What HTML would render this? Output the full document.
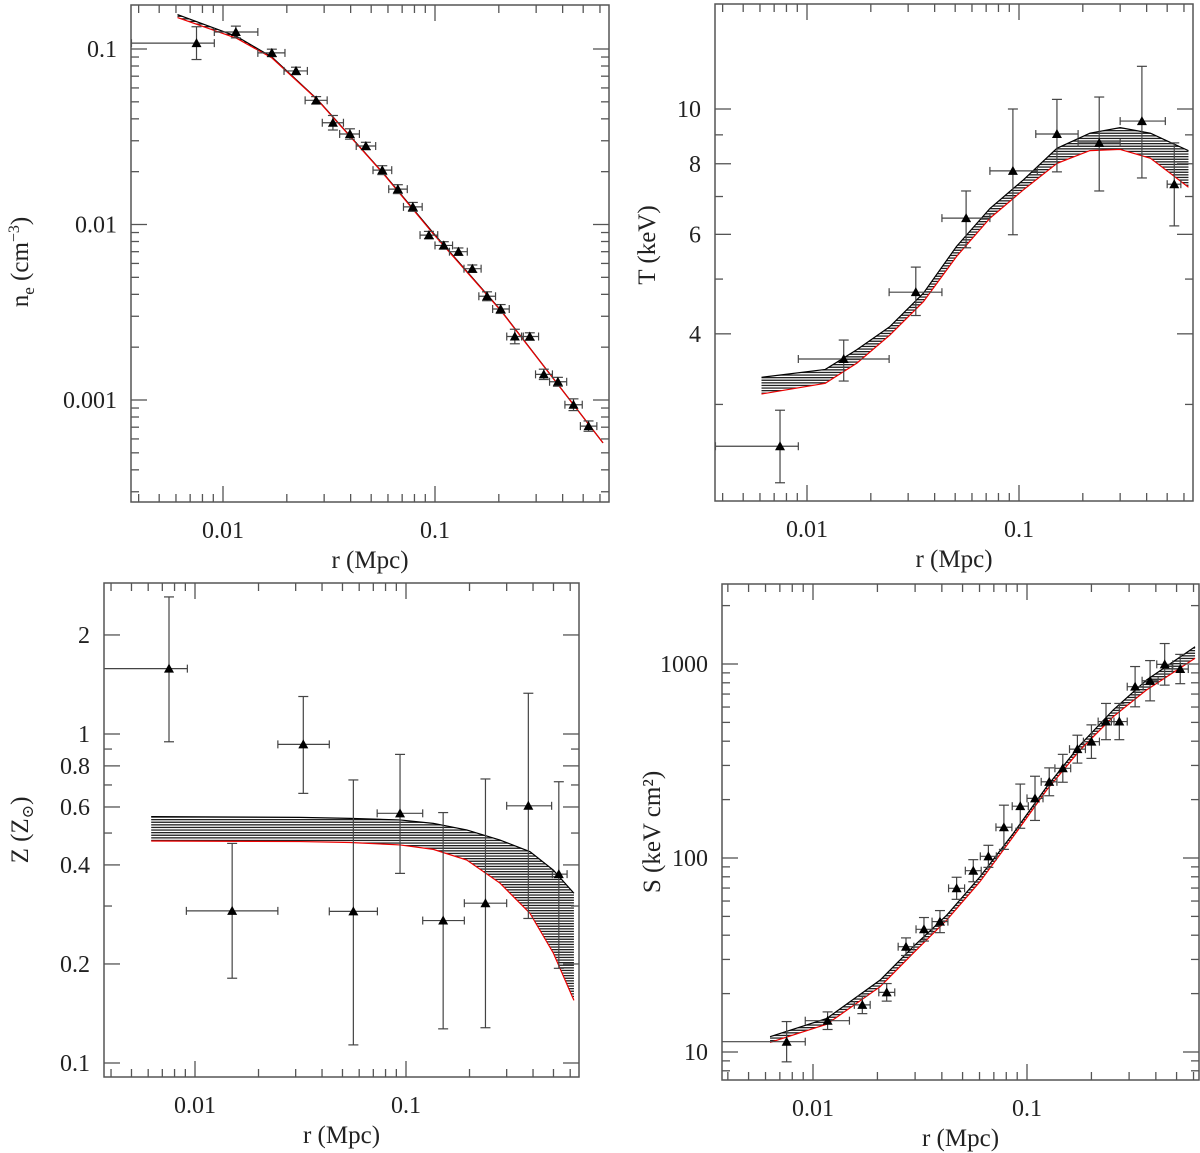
<!DOCTYPE html>
<html><head><meta charset="utf-8">
<style>
html,body{margin:0;padding:0;background:#fff;}
svg{display:block;font-family:"Liberation Serif","DejaVu Serif",serif;}
</style></head>
<body>
<svg id="fig" width="1200" height="1153" viewBox="0 0 1200 1153" xmlns="http://www.w3.org/2000/svg">
<defs>
<pattern id="hatch" patternUnits="userSpaceOnUse" width="6" height="2.6">
<rect x="0" y="0" width="6" height="1.3" fill="#222"/>
</pattern>
</defs>
</svg>
<script>
// ---------- Panel A: electron density ----------
const aR=[.0075,.0115,.0170,.0221,.0275,.0330,.0397,.0472,.0564,.0668,.0786,.0936,.110,.129,.150,.176,.204,.238,.280,.326,.38,.45,.53];
const aN=[.108,.125,.095,.075,.051,.038,.0328,.028,.0204,.0159,.0126,.0087,.0076,.0070,.0056,.0039,.0033,.0023,.0023,.0014,.00127,.00094,.00071];
const aRLo=[.0037,.0091,.0146,.0194,.0244,.0294,.0355,.0425,.0510,.0605,.0710,.0850,.100,.117,.137,.161,.187,.218,.256,.298,.347,.41,.485];
const aRHi=[.0091,.0146,.0196,.0250,.0310,.0370,.0440,.0525,.0625,.0740,.0870,.103,.121,.142,.165,.193,.224,.261,.308,.358,.418,.495,.58];
const aNErr=[.24,.08,.05,.05,.05,.10,.07,.05,.06,.06,.06,.05,.05,.05,.05,.06,.06,.10,.05,.07,.06,.08,.07];
const aMR=[.0061,.0116,.017,.0278,.0568,.0977,.203,.62];
const aMUp=[.157,.118,.090,.0518,.0197,.0090,.00328,.00057];
const aMLo=[.151,.115,.089,.0515,.0196,.0089,.00326,.00057];
const aYTicks=["0.1","0.01","0.001"];
// ---------- Panel B: temperature ----------
const bR=[.00746,.0149,.0326,.0563,.0936,.151,.239,.38,.54];
const bT=[2.53,3.61,4.74,6.41,7.77,9.03,8.71,9.52,7.36];
const bRLo=[.0037,.0091,.0244,.0433,.0729,.12,.19,.30,.50];
const bRHi=[.0091,.0244,.0433,.0729,.122,.19,.30,.49,.58];
const bTLo=[2.18,3.30,4.31,5.68,5.99,7.74,7.16,7.55,6.21];
const bTHi=[2.93,3.90,5.25,7.16,10.0,10.4,10.5,11.9,8.71];
const bMR=[.0061,.0122,.0172,.0246,.0354,.0507,.073,.1048,.151,.216,.30,.417,.53,.63];
const bMUp=[3.35,3.46,3.75,4.12,4.72,5.71,6.67,7.49,8.52,9.06,9.27,9.06,8.69,8.44];
const bMLo=[3.13,3.27,3.55,3.98,4.56,5.48,6.41,7.19,8.01,8.44,8.48,8.18,7.64,7.27];
const bYTicks=["10","8","6","4"];
// ---------- Panel C: metallicity ----------
const cR=[.00753,.0150,.0326,.0563,.0937,.15,.238,.38,.53];
const cZ=[1.58,.29,.93,.289,.574,.271,.306,.605,.375];
const cRLo=[.0037,.0091,.0247,.0433,.073,.12,.189,.30,.494];
const cRHi=[.0092,.0247,.0433,.0732,.12,.189,.30,.49,.58];
const cZLo=[.947,.181,.66,.1135,.377,.127,.128,.275,.194];
const cZHi=[2.61,.465,1.30,.725,.867,.577,.73,1.33,.716];
const cMR=[.0062,.0315,.0543,.0937,.1347,.194,.279,.387,.499,.625];
const cMUp=[.561,.558,.554,.548,.535,.511,.476,.439,.386,.328];
const cMLo=[.473,.471,.468,.46,.446,.414,.352,.285,.216,.155];
const cYTicks=["2","1","0.8","0.6","0.4","0.2","0.1"];
// ---------- Panel D: entropy ----------
const dR=[.00753,.0117,.0170,.0221,.0272,.0330,.0392,.0469,.0561,.066,.078,.093,.109,.127,.147,.172,.20,.234,.27,.32,.376,.44,.52];
const dS=[11.3,14.5,17.5,20.3,34.9,42.9,47.0,69.8,86,102,144,185,203,247,290,364,398,505,505,764,820,996,942];
const dRLo=[.0037,.0092,.0156,.0203,.0250,.0303,.0360,.0430,.0515,.0605,.0716,.0853,.100,.1165,.135,.158,.1835,.215,.248,.294,.345,.404,.477];
const dRHi=[.0092,.0148,.0185,.0241,.0296,.0360,.0427,.0511,.0611,.0719,.085,.1014,.1188,.138,.160,.1875,.218,.255,.294,.349,.41,.48,.567];
const dErr=[.27,.11,.11,.11,.11,.15,.14,.14,.14,.14,.30,.30,.30,.18,.18,.18,.22,.24,.24,.27,.27,.28,.19];
const dMR=[.0063,.0116,.0206,.0294,.0422,.0603,.0863,.1236,.177,.253,.362,.61];
const dMUp=[12.0,14.9,23.5,34.9,50.8,80,134,233,382,580,827,1228];
const dMLo=[11.2,13.9,21.7,32.3,47.9,75.5,129,224,360,535,735,1070];
const dYTicks=["1000","100","10"];
const xTicks=["0.01","0.1"];

const NS="http://www.w3.org/2000/svg";
const fig=document.getElementById('fig');
function mk(tag,attrs,parent){const e=document.createElementNS(NS,tag);for(const k in attrs)e.setAttribute(k,attrs[k]);(parent||fig).appendChild(e);return e;}
const L=Math.log10;

function panel(cfg){
  const g=mk('g',{});
  
  
  const X=v=>cfg.x1+(L(v)+2)*cfg.dx;
  const Y=v=>cfg.yref-(L(v)-L(cfg.yrefv))*cfg.dy;
  const b=cfg.box;
  const cid='clip'+cfg.name;
  const cp=mk('clipPath',{id:cid},fig.querySelector('defs'));
  mk('rect',{x:b.l,y:b.t,width:b.r-b.l,height:b.b-b.t},cp);
  const band=mk('g',{'clip-path':'url(#'+cid+')'},g);
  
  
  let pts=[];
  cfg.mr.forEach((r,i)=>pts.push(X(r)+','+Y(cfg.mu[i])));
  for(let i=cfg.mr.length-1;i>=0;i--)pts.push(X(cfg.mr[i])+','+Y(cfg.ml[i]));
  mk('polygon',{points:pts.join(' '),fill:'url(#hatch)',stroke:'none'},band);
  const up=mk('polyline',{points:cfg.mr.map((r,i)=>X(r)+','+Y(cfg.mu[i])).join(' '),fill:'none',stroke:'#000','stroke-width':1.2},band);
  
  
  const lo=mk('polyline',{points:cfg.mr.map((r,i)=>X(r)+','+Y(cfg.ml[i])).join(' '),fill:'none',stroke:'#e00','stroke-width':1.2},band);
  
  
  const dg=mk('g',{'clip-path':'url(#'+cid+')',stroke:'#444','stroke-width':1.2},g);
  
  
  cfg.r.forEach((r,i)=>{
    const x=X(r),y=Y(cfg.v[i]);
    const x0=Math.max(X(cfg.rlo[i]),b.l),x1=X(cfg.rhi[i]);
    const y0=Y(cfg.vhi[i]),y1=Y(cfg.vlo[i]);
    const p=mk('g',{},dg);
    
    
    mk('line',{x1:x0,y1:y,x2:x1,y2:y},p);
    mk('line',{x1:x1,y1:y-4,x2:x1,y2:y+4},p);
    if(X(cfg.rlo[i])>b.l)mk('line',{x1:x0,y1:y-4,x2:x0,y2:y+4},p);
    mk('line',{x1:x,y1:y0,x2:x,y2:y1},p);
    mk('line',{x1:x-5,y1:y0,x2:x+5,y2:y0},p);
    mk('line',{x1:x-5,y1:y1,x2:x+5,y2:y1},p);
    mk('polygon',{points:`${x},${y-5} ${x-5},${y+4} ${x+5},${y+4}`,fill:'#000',stroke:'none'},p);
  });
  const fr=mk('rect',{x:b.l,y:b.t,width:b.r-b.l,height:b.b-b.t,fill:'none',stroke:'#555','stroke-width':1.5},g);
  
  
  const tg=mk('g',{stroke:'#555','stroke-width':1.3},g);
  for(let d=-3;d<=0;d++)for(let m=1;m<=9;m++){
    const v=m*Math.pow(10,d),x=X(v);
    if(x<=b.l+1||x>=b.r-1)continue;
    const len=m===1?16:8;
    mk('line',{x1:x,y1:b.b,x2:x,y2:b.b-len},tg);
    mk('line',{x1:x,y1:b.t,x2:x,y2:b.t+len},tg);
  }
  cfg.yt.forEach(([v,major])=>{
    const y=Y(v);if(y<=b.t+1||y>=b.b-1)return;
    const len=major?16:8;
    mk('line',{x1:b.l,y1:y,x2:b.l+len,y2:y},tg);
    mk('line',{x1:b.r,y1:y,x2:b.r-len,y2:y},tg);
  });
  xTicks.forEach(t=>{
    const tx=mk('text',{x:X(parseFloat(t)),y:b.b+36,'text-anchor':'middle','font-size':24,fill:'#222'},g);
    tx.textContent=t;
    
    
  });
  cfg.ylabels.forEach(t=>{
    const ty=mk('text',{x:b.l-14,y:Y(parseFloat(t))+8,'text-anchor':'end','font-size':24,fill:'#222'},g);
    ty.textContent=t;
    
    
  });
  const xt=mk('text',{x:(b.l+b.r)/2,y:b.b+66,'text-anchor':'middle','font-size':25,fill:'#222'},g);
  xt.textContent='r (Mpc)';
  
  
  const yt=mk('text',{x:0,y:0,'text-anchor':'middle','font-size':25,fill:'#222',transform:`translate(${cfg.ytx},${cfg.yty}) rotate(-90)`},g);
  yt.innerHTML=cfg.ytitle;
  
  
}
function decTicks(lo,hi){const a=[];for(let d=lo;d<=hi;d++)for(let m=1;m<=9;m++)a.push([m*Math.pow(10,d),m===1]);return a;}

panel({name:'density-panel',box:{l:131,t:5,r:609,b:502},x1:223,dx:212,yref:49,yrefv:0.1,dy:175.5,
  r:aR,v:aN,rlo:aRLo,rhi:aRHi,vlo:aN.map((v,i)=>v/(1+aNErr[i])),vhi:aN.map((v,i)=>v*(1+aNErr[i])),
  mr:aMR,mu:aMUp,ml:aMLo,yt:decTicks(-4,-1),ylabels:aYTicks,ytx:28,yty:262,
  ytitle:'n<tspan font-size="17" dy="6">e</tspan><tspan dy="-6"> (cm</tspan><tspan font-size="16" dy="-9">−3</tspan><tspan dy="9">)</tspan>'});
panel({name:'temperature-panel',box:{l:715,t:4,r:1193,b:501},x1:807,dx:212,yref:109,yrefv:10,dy:565,
  r:bR,v:bT,rlo:bRLo,rhi:bRHi,vlo:bTLo,vhi:bTHi,mr:bMR,mu:bMUp,ml:bMLo,
  yt:[[3,false],[4,true],[5,false],[6,true],[7,false],[8,true],[9,false],[10,true]],ylabels:bYTicks,ytx:655,yty:245,ytitle:'T (keV)'});
panel({name:'metallicity-panel',box:{l:104,t:583,r:579,b:1077},x1:195,dx:211,yref:734,yrefv:1,dy:329,
  r:cR,v:cZ,rlo:cRLo,rhi:cRHi,vlo:cZLo,vhi:cZHi,mr:cMR,mu:cMUp,ml:cMLo,
  yt:[[.1,true],[.2,true],[.3,false],[.4,true],[.5,false],[.6,true],[.7,false],[.8,true],[.9,false],[1,true],[2,true]],ylabels:cYTicks,ytx:28,yty:830,
  ytitle:'Z (Z<tspan font-size="16" dy="5">⊙</tspan><tspan dy="-5">)</tspan>'});
panel({name:'entropy-panel',box:{l:722,t:584,r:1199,b:1080},x1:813,dx:214,yref:1052,yrefv:10,dy:194,
  r:dR,v:dS,rlo:dRLo,rhi:dRHi,vlo:dS.map((v,i)=>v/(1+dErr[i])),vhi:dS.map((v,i)=>v*(1+dErr[i])),
  mr:dMR,mu:dMUp,ml:dMLo,yt:decTicks(0,3),ylabels:dYTicks,ytx:660,yty:832,ytitle:'S (keV cm²)'});
</script>
</body></html>
